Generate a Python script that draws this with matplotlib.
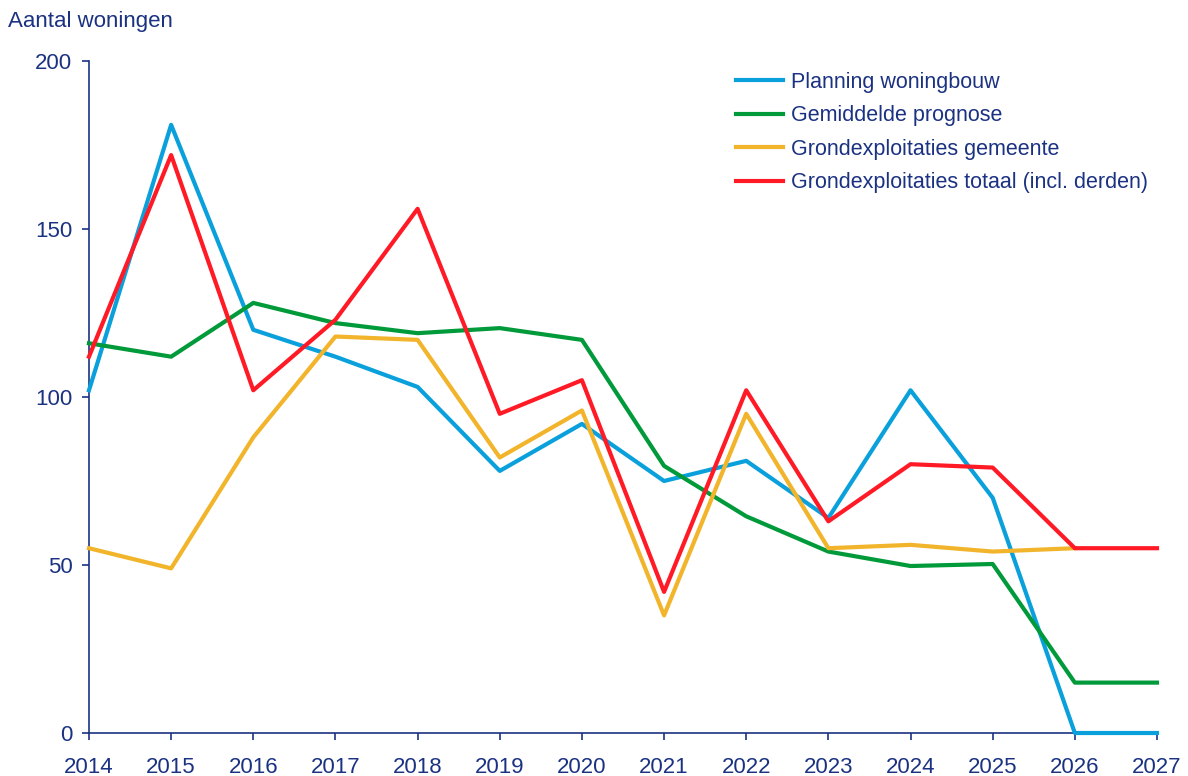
import numpy as np
import matplotlib.pyplot as plt

plt.rcParams['font.family'] = ['Liberation Sans', 'DejaVu Sans']

years = list(range(2014, 2028))
planning = [102, 181, 120, 112, 103, 78, 92, 75, 81, 64, 102, 70, 0, 0]
prognose = [116, 112, 128, 122, 119, 120.5, 117, 79.5, 64.5, 54, 49.7, 50.3, 15, 15]
gemeente = [55, 49, 88, 118, 117, 82, 96, 35, 95, 55, 56, 54, 55, np.nan]
totaal = [112, 172, 102, 123, 156, 95, 105, 42, 102, 63, 80, 79, 55, 55]

navy = '#1b3282'

fig = plt.figure(figsize=(11.88, 7.76), dpi=100)
ax = fig.add_axes([0.0749, 0.0554, 0.899, 0.866])

ax.plot(years, planning, color='#0aa0dc', lw=3, label='Planning woningbouw', zorder=3, clip_on=False)
ax.plot(years, prognose, color='#009a3a', lw=3, label='Gemiddelde prognose', zorder=3, clip_on=False)
ax.plot(years, gemeente, color='#f2b42a', lw=3, label='Grondexploitaties gemeente', zorder=3, clip_on=False)
ax.plot(years, totaal, color='#ff1a25', lw=3, label='Grondexploitaties totaal (incl. derden)',
        zorder=3, clip_on=False)

ax.set_xlim(2014, 2027)
ax.set_ylim(0, 200)
ax.set_xticks(years)
ax.set_yticks([0, 50, 100, 150, 200])

for s in ['top', 'right']:
    ax.spines[s].set_visible(False)
for s in ['left', 'bottom']:
    ax.spines[s].set_color(navy)
    ax.spines[s].set_linewidth(1.2)

ax.tick_params(axis='both', colors=navy, labelsize=16, direction='out', length=5, width=1.2)
ax.tick_params(axis='x', pad=12.5)
ax.tick_params(axis='y', pad=7)

fig.text(0.007, 0.972, 'Aantal woningen', color=navy, fontsize=16, va='center')

leg = ax.legend(loc='upper left', bbox_to_anchor=(736 / 1188, 1 - 72 / 776),
                bbox_transform=fig.transFigure, frameon=False, borderpad=0, borderaxespad=0,
                fontsize=15.5, handlelength=2.2, labelspacing=0.58, handletextpad=0.37)
for t in leg.get_texts():
    t.set_color(navy)

fig.savefig('out.png', dpi=100)
